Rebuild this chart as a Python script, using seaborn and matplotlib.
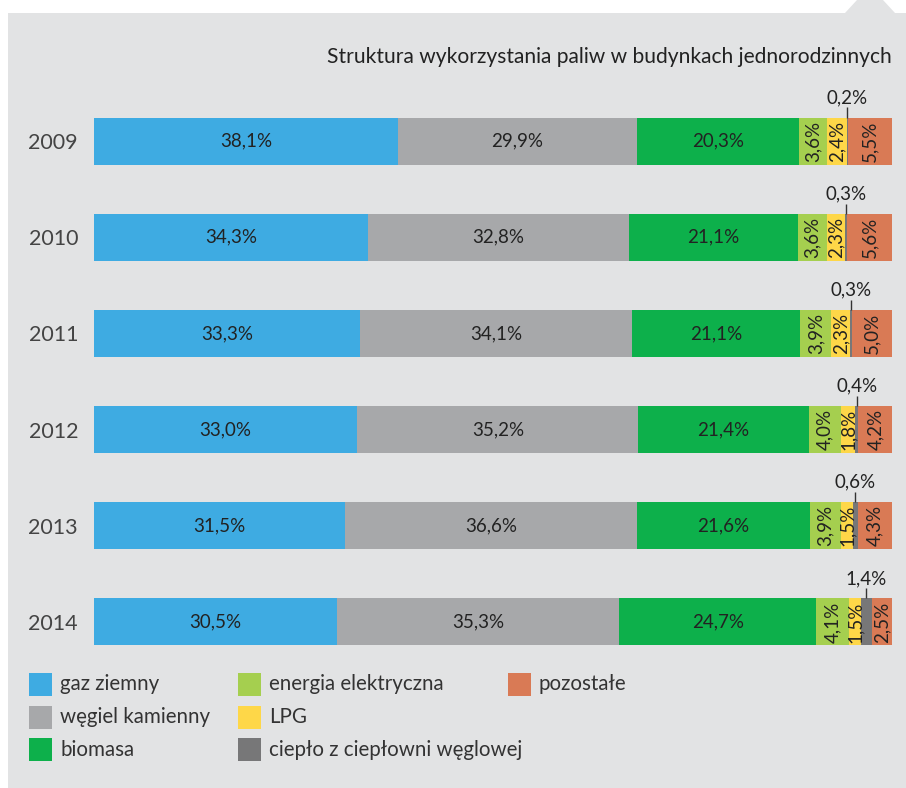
import matplotlib
matplotlib.use("Agg")
import matplotlib.pyplot as plt
from matplotlib.patches import Polygon, Rectangle
import numpy as np
import pandas as pd
import seaborn as sns

years = ["2009", "2010", "2011", "2012", "2013", "2014"]
fuels = ["gaz ziemny", "węgiel kamienny", "biomasa", "energia elektryczna",
         "LPG", "ciepło z ciepłowni węglowej", "pozostałe"]
gaz = [38.1, 34.3, 33.3, 33.0, 31.5, 30.5]
wegiel = [29.9, 32.8, 34.1, 35.2, 36.6, 35.3]
biomasa = [20.3, 21.1, 21.1, 21.4, 21.6, 24.7]
energia = [3.6, 3.6, 3.9, 4.0, 3.9, 4.1]
lpg = [2.4, 2.3, 2.3, 1.8, 1.5, 1.5]
cieplo = [0.2, 0.3, 0.3, 0.4, 0.6, 1.4]
pozostale = [5.5, 5.6, 5.0, 4.2, 4.3, 2.5]
colors = ["#3eabe2", "#a7a8aa", "#0db04b", "#a5cf4f", "#fed748", "#777778", "#d97a55"]
title = "Struktura wykorzystania paliw w budynkach jednorodzinnych"

series = [gaz, wegiel, biomasa, energia, lpg, cieplo, pozostale]
df = pd.DataFrame({f: v for f, v in zip(fuels, series)}, index=years)
cum = df.cumsum(axis=1)

sns.set_theme(style="white")
plt.rcParams["font.family"] = ["Lato", "DejaVu Sans"]
TXT = "#222222"

W, H = 906, 788
fig = plt.figure(figsize=(W / 100, H / 100), dpi=100, facecolor="white")

# grey panel with a small tab at the top right
pts = [(8, 788), (8, 13), (845, 13), (857, 0), (883, 0), (895, 13), (906, 13), (906, 788)]
fig.patches.append(Polygon([(x / W, 1 - y / H) for x, y in pts], closed=True,
                           transform=fig.transFigure, facecolor="#e2e3e4",
                           edgecolor="none", zorder=-5))

ax = fig.add_axes([94 / W, 1 - 670 / H, 798 / W, (670 - 93) / H])
ax.set_facecolor("none")
ax.set_zorder(2)

bar_w = 0.49
# stacked bars: draw cumulative totals from the last segment backwards
for fuel, col in reversed(list(zip(fuels, colors))):
    sns.barplot(x=cum[fuel].values, y=years, order=years, orient="h", color=col,
                saturation=1, width=bar_w, linewidth=0, ax=ax)

ax.set_xlim(0, 100)
ax.set_ylim(5.5, -0.5)
for s in ax.spines.values():
    s.set_visible(False)
ax.set_xticks([])
ax.set_xlabel("")
ax.set_ylabel("")
ax.tick_params(axis="y", length=0, pad=11.5, labelsize=15.5, labelcolor="#444444")

def fmt(v):
    return f"{v:.1f}%".replace(".", ",")

LBL = 13.5
for i, yr in enumerate(years):
    left = 0.0
    for j, fuel in enumerate(fuels):
        v = df.loc[yr, fuel]
        c = left + v / 2
        if j < 3:
            ax.text(c, i, fmt(v), ha="center", va="center", fontsize=LBL, color=TXT)
        elif fuel == "ciepło z ciepłowni węglowej":
            top = i - bar_w / 2
            ax.vlines(c, top - 0.105, top, color="#333333", lw=1)
            ax.text(c, top - 0.15, fmt(v), ha="center", va="baseline",
                    fontsize=LBL, color=TXT)
        else:
            ax.text(c, i, fmt(v), ha="center", va="center", rotation=90,
                    fontsize=LBL, color=TXT)
        left += v

fig.text(892 / W, 1 - 57 / H, title, ha="right", va="center", fontsize=15.1, color=TXT)

# legend laid out in three columns
cols_x = [29, 238, 508]
rows_y = [684.5, 717, 749.5]
layout = [(0, 0), (0, 1), (0, 2), (1, 0), (1, 1), (1, 2), (2, 0)]
for (ci, ri), fuel, col in zip(layout, fuels, colors):
    x0, yc = cols_x[ci], rows_y[ri]
    fig.patches.append(Rectangle((x0 / W, 1 - (yc + 11.5) / H), 23 / W, 23 / H,
                                 transform=fig.transFigure, facecolor=col,
                                 edgecolor="none"))
    fig.text((x0 + 31) / W, 1 - yc / H, fuel, ha="left", va="center",
             fontsize=14.8, color="#333333")

fig.savefig("out.png", dpi=100, facecolor=fig.get_facecolor())
